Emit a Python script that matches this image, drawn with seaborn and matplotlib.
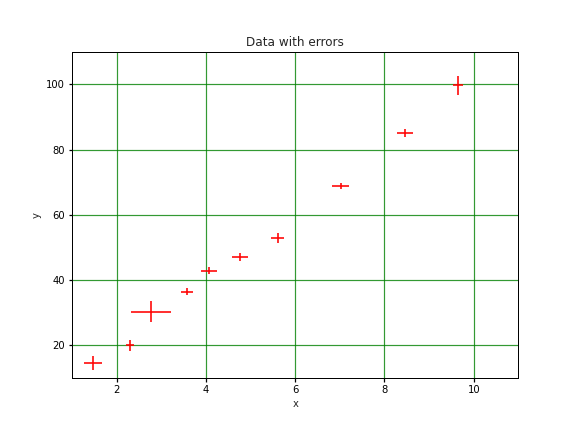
import matplotlib
matplotlib.use("Agg")
import matplotlib.pyplot as plt
import seaborn as sns

# ----------------------------
# DATA
# ----------------------------
x = [1.47, 2.30, 2.77, 3.57, 4.07, 4.76, 5.61, 7.02, 8.46, 9.65]
y = [14.6, 20.1, 30.3, 36.5, 42.9, 47.2, 53.0, 68.9, 85.2, 99.8]
x_err = [0.21, 0.08, 0.44, 0.13, 0.17, 0.18, 0.15, 0.19, 0.17, 0.12]
y_err = [2.1, 1.7, 3.2, 1.2, 1.0, 1.2, 1.5, 1.0, 1.2, 2.9]

# ----------------------------
# PLOT
# ----------------------------
sns.set_theme(style="ticks", rc={
    "axes.edgecolor": "black",
    "axes.linewidth": 1.0,
    "xtick.color": "black",
    "ytick.color": "black",
    "xtick.major.size": 3.5,
    "ytick.major.size": 3.5,
    "font.size": 10,
    "axes.labelsize": 10,
    "axes.titlesize": 12,
    "xtick.labelsize": 10,
    "ytick.labelsize": 10,
})
plt.rcParams["font.family"] = ["DejaVu Sans"]

fig, ax = plt.subplots(figsize=(8, 6), dpi=72)
ax.errorbar(x, y, xerr=x_err, yerr=y_err, fmt="none",
            ecolor="red", elinewidth=2, alpha=0.8)

ax.set_xlim(1, 11)
ax.set_ylim(10, 110)
ax.set_xticks([2, 4, 6, 8, 10])
ax.set_yticks([20, 40, 60, 80, 100])
ax.grid(True, color="green", linewidth=1.2, alpha=0.8)
ax.set_axisbelow(True)
ax.set_xlabel("x")
ax.set_ylabel("y")
ax.set_title("Data with errors")

fig.subplots_adjust(left=0.125, right=0.9, bottom=0.125, top=0.88)
fig.savefig("out.png", dpi=72, facecolor="white")
